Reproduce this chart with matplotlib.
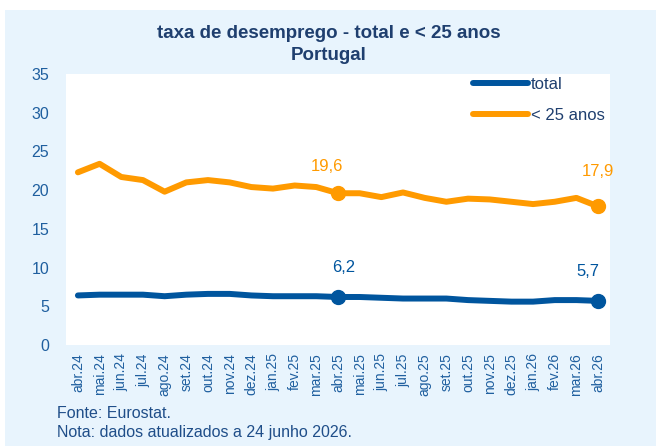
import matplotlib.pyplot as plt
from matplotlib.patches import Rectangle

plt.rcParams['font.family'] = ['Liberation Sans', 'DejaVu Sans']

months = ['abr.24', 'mai.24', 'jun.24', 'jul.24', 'ago.24', 'set.24', 'out.24',
          'nov.24', 'dez.24', 'jan.25', 'fev.25', 'mar.25', 'abr.25', 'mai.25',
          'jun.25', 'jul.25', 'ago.25', 'set.25', 'out.25', 'nov.25', 'dez.25',
          'jan.26', 'fev.26', 'mar.26', 'abr.26']
total = [6.4, 6.5, 6.5, 6.5, 6.3, 6.5, 6.6, 6.6, 6.4, 6.3, 6.3, 6.3, 6.2,
         6.2, 6.1, 6.0, 6.0, 6.0, 5.8, 5.7, 5.6, 5.6, 5.8, 5.8, 5.7]
under25 = [22.3, 23.4, 21.7, 21.3, 19.8, 21.0, 21.3, 21.0, 20.4, 20.2, 20.6,
           20.4, 19.6, 19.6, 19.1, 19.7, 19.0, 18.5, 18.9, 18.8, 18.5, 18.2,
           18.5, 19.0, 17.9]
marked = [12, 24]

blue = '#00559e'
orange = '#ff9a00'
navy = '#1f3f6f'
tick_col = '#1f5f9f'

fig = plt.figure(figsize=(6.56, 4.46), dpi=100)
fig.patches.append(Rectangle((5 / 656, 0), 1, 1 - 10 / 446, transform=fig.transFigure,
                             facecolor='#e8f4fd', edgecolor='none', zorder=-5))

ax = fig.add_axes([66 / 656, 101 / 446, 544 / 656, 271 / 446])
ax.set_facecolor('white')
x = list(range(len(months)))
ax.plot(x, total, color=blue, lw=4.3, solid_capstyle='round', label='total')
ax.plot(x, under25, color=orange, lw=4.3, solid_capstyle='round', label='< 25 anos')
for i in marked:
    ax.plot(i, total[i], 'o', color=blue, ms=10)
    ax.plot(i, under25[i], 'o', color=orange, ms=10)

offsets_u = {12: (-8, 19), 24: (0, 25)}
offsets_t = {12: (4, 21), 24: (-7, 21)}
for i in marked:
    ax.annotate(f'{under25[i]:.1f}'.replace('.', ','), (i, under25[i]),
                xytext=offsets_u[i], textcoords='offset points',
                ha='center', va='center', color=orange, fontsize=12)
    ax.annotate(f'{total[i]:.1f}'.replace('.', ','), (i, total[i]),
                xytext=offsets_t[i], textcoords='offset points',
                ha='center', va='center', color=blue, fontsize=12)

ax.set_xlim(-0.55, 24.55)
ax.set_ylim(0, 35)
ax.set_yticks(range(0, 36, 5))
ax.set_xticks(x)
ax.set_xticklabels(months, rotation=90)
ax.tick_params(axis='y', length=0, pad=12, labelsize=11.5, labelcolor=tick_col)
ax.tick_params(axis='x', length=0, pad=6, labelsize=10, labelcolor=tick_col)
for s in ax.spines.values():
    s.set_visible(False)

ax.legend(loc='upper left', bbox_to_anchor=(400 / 544, 1.015), frameon=False,
          handlelength=3.3, labelspacing=1.0, fontsize=12, labelcolor=navy,
          handletextpad=0.2, borderaxespad=0.0)

fig.text(329 / 656, 1 - 33 / 446, 'taxa de desemprego - total e < 25 anos',
         ha='center', va='center', fontsize=13.5, fontweight='bold', color=navy)
fig.text(329 / 656, 1 - 55 / 446, 'Portugal',
         ha='center', va='center', fontsize=13.5, fontweight='bold', color=navy)
fig.text(57 / 656, 1 - 414 / 446, 'Fonte: Eurostat.',
         ha='left', va='center', fontsize=11.5, color='#1f4e89')
fig.text(57 / 656, 1 - 433 / 446, 'Nota: dados atualizados a 24 junho 2026.',
         ha='left', va='center', fontsize=11.5, color='#1f4e89')

fig.savefig('out.png', dpi=100)
